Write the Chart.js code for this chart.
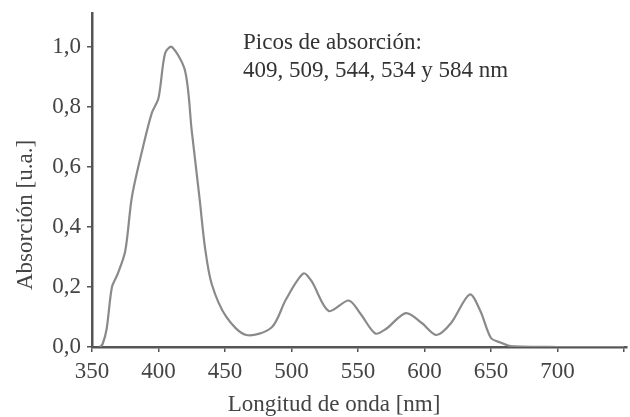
<!DOCTYPE html>
<html>
<head>
<meta charset="utf-8">
<script src="https://cdn.jsdelivr.net/npm/chart.js@4.4.1/dist/chart.umd.min.js"></script>
<style>
  html, body { margin: 0; padding: 0; background: #fff; }
  #wrap { width: 630px; height: 417px; }
</style>
</head>
<body>
<div id="wrap"><canvas id="spec"></canvas></div>
<script>
// absorption spectrum, values
const wavelength = [356, 358, 361, 365, 369, 375, 380, 388, 395, 400, 405, 410, 420, 425, 431, 435, 440, 451, 466, 485, 496, 509, 515, 528, 543, 552, 563, 571, 586, 598, 609, 620, 634, 642, 650, 657, 665, 700, 750];
const absorbance = [0, 0.01, 0.06, 0.2, 0.24, 0.32, 0.5, 0.66, 0.78, 0.83, 0.98, 1.0, 0.92, 0.72, 0.49, 0.33, 0.21, 0.1, 0.04, 0.065, 0.16, 0.245, 0.22, 0.12, 0.155, 0.11, 0.045, 0.06, 0.113, 0.08, 0.04, 0.08, 0.175, 0.12, 0.03, 0.015, 0.003, 0, 0];
const xTicks = [350, 400, 450, 500, 550, 600, 650, 700, 750];
const yTicks = [0, 0.2, 0.4, 0.6, 0.8, 1.0];
const noteLines = ['Picos de absorción:', '409, 509, 544, 534 y 584 nm'];
const xTitle = 'Longitud de onda [nm]';
const yTitle = 'Absorción [u.a.]';

const serif = 'Liberation Serif';
const ink = '#444';

// peak note and axis titles (titles sit off-centre in the original)
const textPlugin = {
  id: 'texts',
  afterDraw(chart) {
    const ctx = chart.ctx;
    ctx.save();
    ctx.fillStyle = '#333';
    ctx.font = '23px "' + serif + '"';
    ctx.textBaseline = 'alphabetic';
    ctx.textAlign = 'left';
    noteLines.forEach((t, i) => ctx.fillText(t, 243, 49 + i * 28));

    ctx.fillStyle = ink;
    ctx.textAlign = 'center';
    ctx.fillText(xTitle, 334, 411);

    ctx.translate(32, 215);
    ctx.rotate(-Math.PI / 2);
    ctx.fillText(yTitle, 0, 0);
    ctx.restore();
  }
};

new Chart(document.getElementById('spec'), {
  type: 'line',
  data: {
    datasets: [{
      data: wavelength.map((w, i) => ({ x: w, y: absorbance[i] })),
      borderColor: '#8a8a8a',
      borderWidth: 2.2,
      pointRadius: 0,
      tension: 0.3,
      fill: false
    }]
  },
  options: {
    responsive: true,
    maintainAspectRatio: false,
    animation: false,
    layout: { padding: { left: 8, right: 2, top: 13, bottom: 0 } },
    plugins: { legend: { display: false }, tooltip: { enabled: false } },
    scales: {
      x: {
        type: 'linear',
        min: 350, max: 752,
        afterBuildTicks: s => { s.ticks = xTicks.map(v => ({ value: v })); },
        afterFit: s => { s.height = 70; },
        ticks: {
          font: { family: serif, size: 23 }, color: ink, padding: 6,
          maxRotation: 0,
          callback: v => (v === 750 ? '' : String(v))
        },
        grid: { drawOnChartArea: false, tickLength: 5, color: '#555', lineWidth: 1.5 },
        border: { color: '#555', width: 2.5 }
      },
      y: {
        min: 0, max: 1.113,
        afterBuildTicks: s => { s.ticks = yTicks.map(v => ({ value: v })); },
        afterFit: s => { s.width = 84; s.paddingTop = 0; s.paddingBottom = 0; },
        ticks: {
          font: { family: serif, size: 23 }, color: ink, padding: 6,
          callback: v => v.toFixed(1).replace('.', ',')
        },
        grid: { drawOnChartArea: false, tickLength: 5, color: '#555', lineWidth: 1.5 },
        border: { color: '#555', width: 2.5 }
      }
    }
  },
  plugins: [textPlugin]
});
</script>
</body>
</html>
